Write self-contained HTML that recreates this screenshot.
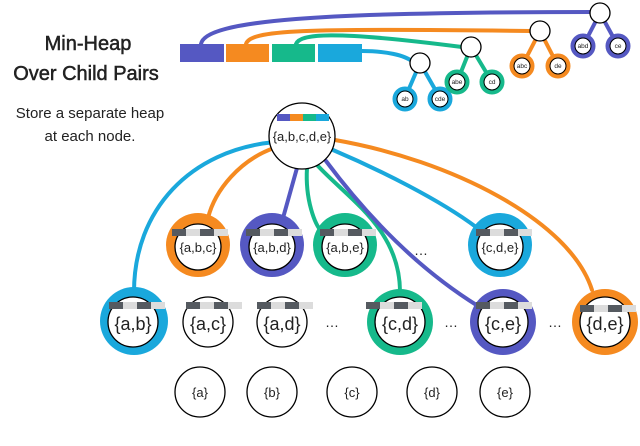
<!DOCTYPE html>
<html><head><meta charset="utf-8"><style>
html,body{margin:0;padding:0;background:#fff}
svg{display:block}
text{font-family:"Liberation Sans",sans-serif;fill:#222}
</style></head><body>
<svg width="640" height="446" viewBox="0 0 640 446" xmlns="http://www.w3.org/2000/svg">
<defs>
<g id="bar">
<rect x="0" y="0" width="14" height="7" fill="#555a60"/>
<rect x="14" y="0" width="14" height="7" fill="#dcdcdc"/>
<rect x="28" y="0" width="14" height="7" fill="#555a60"/>
<rect x="42" y="0" width="14" height="7" fill="#dcdcdc"/>
</g>
</defs>
<!-- title -->
<text x="88" y="50" font-size="20" text-anchor="middle" stroke="#222" stroke-width="0.5">Min-Heap</text>
<text x="86" y="80" font-size="20" text-anchor="middle" stroke="#222" stroke-width="0.5">Over Child Pairs</text>
<text x="90" y="118" font-size="15" text-anchor="middle">Store a separate heap</text>
<text x="90" y="141" font-size="15" text-anchor="middle">at each node.</text>

<!-- top heap bar & curves -->
<g fill="none" stroke-width="4" stroke-linecap="round">
<path d="M201 44 C205 20 320 12 592 12" stroke="#5558c2"/>
<path d="M246 44 C250 30 300 28 530 31" stroke="#f58a20"/>
<path d="M296 44 C300 34 330 30 462 47" stroke="#16b98b"/>
<path d="M362 51 C385 51 405 55 413 62" stroke="#1aa8dc"/>
<path d="M420 63 L405 98 M420 63 L440 98" stroke="#1aa8dc"/>
<path d="M471 47 L457 82 M471 47 L492 82" stroke="#16b98b"/>
<path d="M540 31 L522 66 M540 31 L558 66" stroke="#f58a20"/>
<path d="M600 13 L583 46 M600 13 L618 46" stroke="#5558c2"/>
</g>
<rect x="180" y="44" width="44" height="18" fill="#5558c2"/>
<rect x="226" y="44" width="43" height="18" fill="#f58a20"/>
<rect x="272" y="44" width="43" height="18" fill="#16b98b"/>
<rect x="318" y="44" width="44" height="18" fill="#1aa8dc"/>
<g stroke="#000" stroke-width="1.3" fill="#fff">
<circle cx="420" cy="63" r="10"/><circle cx="471" cy="47" r="10"/><circle cx="540" cy="31" r="10"/><circle cx="600" cy="13" r="10"/>
</g>
<g stroke-width="5">
<circle cx="405" cy="99" r="10" fill="#fff" stroke="#1aa8dc"/><circle cx="440" cy="99" r="10" fill="#fff" stroke="#1aa8dc"/>
<circle cx="457" cy="82" r="10" fill="#fff" stroke="#16b98b"/><circle cx="492" cy="82" r="10" fill="#fff" stroke="#16b98b"/>
<circle cx="522" cy="66" r="10" fill="#fff" stroke="#f58a20"/><circle cx="558" cy="66" r="10" fill="#fff" stroke="#f58a20"/>
<circle cx="583" cy="46" r="10" fill="#fff" stroke="#5558c2"/><circle cx="618" cy="46" r="10" fill="#fff" stroke="#5558c2"/>
</g>
<g stroke="#000" stroke-width="1" fill="none">
<circle cx="405" cy="99" r="8"/><circle cx="440" cy="99" r="8"/><circle cx="457" cy="82" r="8"/><circle cx="492" cy="82" r="8"/>
<circle cx="522" cy="66" r="8"/><circle cx="558" cy="66" r="8"/><circle cx="583" cy="46" r="8"/><circle cx="618" cy="46" r="8"/>
</g>
<g font-size="6.5" text-anchor="middle">
<text x="405" y="101">ab</text><text x="440" y="101">cde</text><text x="457" y="84">abe</text><text x="492" y="84">cd</text>
<text x="522" y="68">abc</text><text x="558" y="68">de</text><text x="583" y="48">abd</text><text x="618" y="48">ce</text>
</g>

<!-- main edges -->
<g fill="none" stroke-width="4" stroke-linecap="round">
<path d="M275 142 C190 150 134 210 134 292" stroke="#1aa8dc"/>
<path d="M274 148 C240 160 215 190 208 218" stroke="#f58a20"/>
<path d="M297 168 L283 218" stroke="#5558c2"/>
<path d="M307 168 C305 200 315 225 322 232" stroke="#16b98b"/>
<path d="M318 166 C350 200 400 230 400 292" stroke="#16b98b"/>
<path d="M326 161 C370 220 420 270 478 306" stroke="#5558c2"/>
<path d="M333 150 C380 170 440 200 476 227" stroke="#1aa8dc"/>
<path d="M335 140 C450 160 570 220 592 290" stroke="#f58a20"/>
</g>

<!-- root -->
<circle cx="302" cy="136" r="33" fill="#fff" stroke="#000" stroke-width="1.3"/>
<rect x="277" y="114" width="13" height="7" fill="#5558c2"/>
<rect x="290" y="114" width="13" height="7" fill="#f58a20"/>
<rect x="303" y="114" width="13" height="7" fill="#16b98b"/>
<rect x="316" y="114" width="13" height="7" fill="#1aa8dc"/>
<text x="302" y="141" font-size="13" text-anchor="middle">{a,b,c,d,e}</text>

<!-- blobs -->
<g>
<circle cx="198" cy="245" r="32" fill="#f58a20"/>
<circle cx="272" cy="245" r="32" fill="#5558c2"/>
<circle cx="345" cy="245" r="32" fill="#16b98b"/>
<circle cx="500" cy="245" r="32" fill="#1aa8dc"/>
<circle cx="134" cy="321" r="34" fill="#1aa8dc"/>
<circle cx="400" cy="322" r="33" fill="#16b98b"/>
<circle cx="503" cy="322" r="33" fill="#5558c2"/>
<circle cx="605" cy="322" r="33" fill="#f58a20"/>
</g>
<g fill="#fff" stroke="#000" stroke-width="1.3">
<circle cx="198" cy="247" r="23"/><circle cx="272" cy="247" r="23"/><circle cx="345" cy="247" r="23"/><circle cx="500" cy="247" r="23"/>
<circle cx="133" cy="322" r="25"/><circle cx="208" cy="322" r="25"/><circle cx="282" cy="322" r="25"/>
<circle cx="400" cy="322" r="25"/><circle cx="503" cy="322" r="25"/><circle cx="605" cy="322" r="25"/>
<circle cx="200" cy="392" r="25"/><circle cx="272" cy="392" r="25"/><circle cx="352" cy="392" r="25"/><circle cx="432" cy="392" r="25"/><circle cx="505" cy="392" r="25"/>
</g>
<use href="#bar" x="172" y="229"/><use href="#bar" x="246" y="229"/><use href="#bar" x="320" y="229"/><use href="#bar" x="476" y="229"/>
<use href="#bar" x="109" y="302"/><use href="#bar" x="186" y="302"/><use href="#bar" x="257" y="302"/>
<use href="#bar" x="366" y="302"/><use href="#bar" x="476" y="302"/><use href="#bar" x="580" y="305"/>
<g font-size="13" text-anchor="middle">
<text x="198" y="252">{a,b,c}</text><text x="272" y="252">{a,b,d}</text><text x="345" y="252">{a,b,e}</text><text x="500" y="252">{c,d,e}</text>
</g>
<g font-size="18" text-anchor="middle">
<text x="133" y="330">{a,b}</text><text x="208" y="330">{a,c}</text><text x="282" y="330">{a,d}</text>
<text x="400" y="330">{c,d}</text><text x="503" y="330">{c,e}</text><text x="605" y="330">{d,e}</text>
</g>
<g font-size="13" text-anchor="middle">
<text x="200" y="397">{a}</text><text x="272" y="397">{b}</text><text x="352" y="397">{c}</text><text x="432" y="397">{d}</text><text x="505" y="397">{e}</text>
</g>
<g font-size="14" text-anchor="middle">
<text x="421" y="255">…</text><text x="332" y="327">…</text><text x="451" y="327">…</text><text x="555" y="327">…</text>
</g>
</svg>
</body></html>
